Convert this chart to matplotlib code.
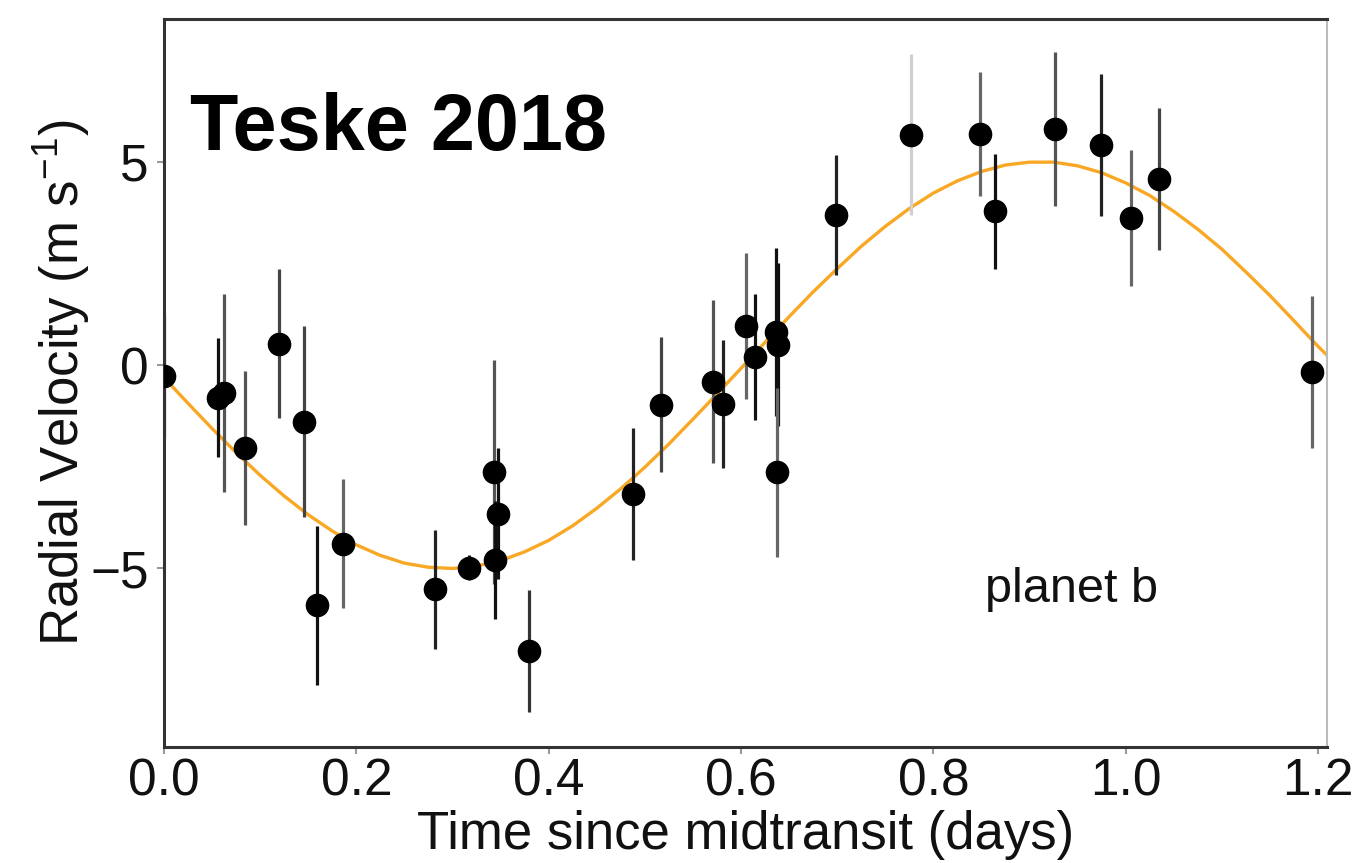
import numpy as np
import matplotlib
matplotlib.use('Agg')
import matplotlib.pyplot as plt

plt.rcParams['font.family'] = ['Liberation Sans', 'DejaVu Sans']
plt.rcParams['mathtext.fontset'] = 'custom'
plt.rcParams['mathtext.rm'] = 'Liberation Sans'
plt.rcParams['mathtext.default'] = 'rm'

# radial velocity points (time since midtransit, rv, error)
time_days = [0.000, 0.056, 0.062, 0.084, 0.120, 0.146, 0.159, 0.186,
             0.282, 0.317, 0.343, 0.347, 0.344, 0.380, 0.488, 0.517,
             0.571, 0.581, 0.605, 0.615, 0.636, 0.638, 0.637, 0.699,
             0.777, 0.849, 0.864, 0.926, 0.974, 1.005, 1.035, 1.194]
rv = [-0.27, -0.80, -0.68, -2.04, 0.53, -1.39, -5.91, -4.39,
      -5.51, -4.98, -2.62, -3.65, -4.80, -7.03, -3.17, -0.97,
      -0.41, -0.96, 0.96, 0.20, 0.81, 0.50, -2.64, 3.69,
      5.67, 5.69, 3.78, 5.81, 5.41, 3.62, 4.57, -0.16]
rv_err = [1.50, 1.46, 2.43, 1.90, 1.83, 2.35, 1.95, 1.59,
          1.46, 0.30, 2.75, 1.60, 1.45, 1.50, 1.62, 1.65,
          2.00, 1.58, 1.79, 1.56, 2.07, 2.00, 2.08, 1.48,
          1.98, 1.52, 1.42, 1.90, 1.74, 1.68, 1.75, 1.87]

# model curve
model_t = [0.000, 0.025, 0.050, 0.075, 0.100, 0.125, 0.150, 0.175, 0.200, 0.225,
           0.250, 0.275, 0.300, 0.325, 0.350, 0.375, 0.400, 0.425, 0.450, 0.475,
           0.500, 0.525, 0.550, 0.575, 0.600, 0.625, 0.650, 0.675, 0.700, 0.725,
           0.750, 0.775, 0.800, 0.825, 0.850, 0.875, 0.900, 0.925, 0.950, 0.975,
           1.000, 1.025, 1.050, 1.075, 1.100, 1.125, 1.150, 1.175, 1.200, 1.210]
model_rv = [-0.31, -0.94, -1.56, -2.15, -2.71, -3.22, -3.68, -4.08, -4.42, -4.68,
            -4.87, -4.97, -5.00, -4.94, -4.81, -4.59, -4.31, -3.95, -3.52, -3.04,
            -2.51, -1.94, -1.33, -0.71, -0.08, 0.56, 1.19, 1.80, 2.37, 2.92,
            3.41, 3.85, 4.23, 4.53, 4.76, 4.92, 4.99, 4.99, 4.90, 4.73,
            4.48, 4.17, 3.78, 3.34, 2.85, 2.29, 1.71, 1.09, 0.46, 0.23]

# shade of each error bar
bar_grey = ['#444444', '#111111', '#555555', '#555555', '#444444', '#444444', '#111111', '#666666',
            '#222222', '#222222', '#555555', '#111111', '#111111', '#333333', '#222222', '#444444',
            '#555555', '#222222', '#666666', '#111111', '#111111', '#111111', '#666666', '#222222',
            '#d0d0d0', '#666666', '#111111', '#555555', '#222222', '#666666', '#444444', '#666666']

fig = plt.figure(figsize=(13.62, 8.63), dpi=100)
ax = fig.add_axes([164/1362, 1 - 747/863, 1162.5/1362, 728/863])

#model
ax.plot(model_t, model_rv, color='#f9a825', lw=2.4, zorder=1)

#error bars
for t, v, e, c in zip(time_days, rv, rv_err, bar_grey):
    ax.plot([t, t], [v - e, v + e], color=c, lw=2.3, zorder=2, solid_capstyle='butt')

#points
ax.plot(time_days, rv, 'o', color='black', ms=16, zorder=3)

ax.set_xlim(0, 1.2088)
ax.set_ylim(-9.39, 8.51)
ax.set_xticks([0.0, 0.2, 0.4, 0.6, 0.8, 1.0, 1.2])
ax.set_xticklabels(['0.0', '0.2', '0.4', '0.6', '0.8', '1.0', '1.2'])
ax.set_yticks([-5, 0, 5])
ax.set_yticklabels(['\u22125', '0', '5'])
ax.tick_params(direction='out', length=5, width=1.5, color='#999999',
               labelsize=37, labelcolor='#111111')
ax.tick_params(axis='x', pad=2.5)
ax.tick_params(axis='y', pad=6)

for side in ['left', 'bottom', 'top']:
    ax.spines[side].set_color('#333333')
    ax.spines[side].set_linewidth(2.2)
ax.spines['right'].set_color('#bbbbbb')
ax.spines['right'].set_linewidth(1.5)

ax.set_xlabel('Time since midtransit (days)', fontsize=38, color='#111111')
ax.xaxis.set_label_coords(0.5, -0.0865)
ax.set_ylabel('Radial Velocity (m s$^{-1}$)', fontsize=38, color='#111111')
ax.yaxis.set_label_coords(-0.062, 0.5)

ax.text(0.0224, 0.820, 'Teske 2018', transform=ax.transAxes, fontsize=57,
        fontweight='bold', ha='left', va='baseline', color='black')
ax.text(0.781, 0.199, 'planet b', transform=ax.transAxes, fontsize=35,
        ha='center', va='baseline', color='#111111')

fig.savefig('out.png', dpi=100)
